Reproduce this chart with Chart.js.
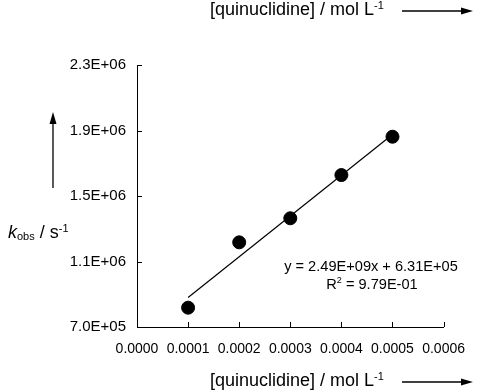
<!DOCTYPE html>
<html>
<head>
<meta charset="utf-8">
<script src="https://cdn.jsdelivr.net/npm/chart.js@4/dist/chart.umd.min.js"></script>
<style>
  body { margin: 0; background: #fff; }
  #wrap { width: 479px; height: 390px; }
</style>
</head>
<body>
<div id="wrap"><canvas id="kobs-chart" width="479" height="390"></canvas></div>
<script>
// concentrations (mol/L) and observed rate constants (1/s)
const conc = [0.0001, 0.0002, 0.0003, 0.0004, 0.0005];
const kobs = [818000, 1217000, 1364000, 1628000, 1862000];
// linear fit y = 2.49E+09x + 6.31E+05, drawn between first and last conc
const fitX = [0.0001, 0.0005];
const fitY = [880000, 1876000];
const xTicks = [0, 0.0001, 0.0002, 0.0003, 0.0004, 0.0005, 0.0006];
const yTicks = [700000, 1100000, 1500000, 1900000, 2300000];
const eqLines = ["y = 2.49E+09x + 6.31E+05", "R2 = 9.79E-01"];

const FONT = "'Liberation Sans', Arial, sans-serif";

function sci(v) {
  const parts = v.toExponential(1).split('e');
  const sign = parts[1][0];
  const digits = parts[1].slice(1).padStart(2, '0');
  return parts[0] + 'E' + sign + digits;
}

// draw a run of text pieces with sub/superscripts
function richText(ctx, pieces, x, y, align) {
  let total = 0;
  pieces.forEach(p => {
    ctx.font = (p.italic ? 'italic ' : '') + p.size + 'px ' + FONT;
    p.w = ctx.measureText(p.t).width;
    total += p.w;
  });
  let cx = align === 'center' ? x - total / 2 : x;
  pieces.forEach(p => {
    ctx.font = (p.italic ? 'italic ' : '') + p.size + 'px ' + FONT;
    ctx.fillText(p.t, cx, y + (p.dy || 0));
    cx += p.w;
  });
  return cx;
}

function arrow(ctx, x1, y1, x2, y2) {
  const ang = Math.atan2(y2 - y1, x2 - x1);
  ctx.beginPath();
  ctx.moveTo(x1, y1);
  ctx.lineTo(x2 - 8 * Math.cos(ang), y2 - 8 * Math.sin(ang));
  ctx.lineWidth = 1.3;
  ctx.stroke();
  ctx.beginPath();
  ctx.moveTo(x2, y2);
  ctx.lineTo(x2 - 12 * Math.cos(ang) + 3.5 * Math.sin(ang), y2 - 12 * Math.sin(ang) - 3.5 * Math.cos(ang));
  ctx.lineTo(x2 - 12 * Math.cos(ang) - 3.5 * Math.sin(ang), y2 - 12 * Math.sin(ang) + 3.5 * Math.cos(ang));
  ctx.closePath();
  ctx.fill();
}

const decorations = {
  id: 'decorations',
  afterDraw(chart) {
    const ctx = chart.ctx;
    const xs = chart.scales.x, ys = chart.scales.y;
    ctx.save();
    ctx.strokeStyle = '#000';
    ctx.fillStyle = '#000';
    ctx.lineWidth = 1;
    // inward tick marks
    ctx.beginPath();
    xTicks.forEach(v => {
      const px = Math.round(xs.getPixelForValue(v)) + 0.5;
      ctx.moveTo(px, ys.bottom);
      ctx.lineTo(px, ys.bottom - 5);
    });
    yTicks.forEach(v => {
      const py = Math.round(ys.getPixelForValue(v)) + 0.5;
      ctx.moveTo(xs.left, py);
      ctx.lineTo(xs.left + 5, py);
    });
    ctx.stroke();

    ctx.textBaseline = 'middle';
    ctx.textAlign = 'left';
    // x axis title, top and bottom
    [10, 381].forEach(ty => {
      richText(ctx, [
        { t: '[quinuclidine] / mol L', size: 18 },
        { t: '-1', size: 11, dy: -4 }
      ], 210, ty, 'left');
      arrow(ctx, 402, ty + 1, 473, ty + 1);
    });
    // y axis title
    richText(ctx, [
      { t: 'k', size: 18, italic: true },
      { t: 'obs', size: 11, dy: 4 },
      { t: ' / s', size: 18 },
      { t: '-1', size: 11, dy: -4 }
    ], 8, 233, 'left');
    arrow(ctx, 53, 188, 53, 112);

    // fit equation
    richText(ctx, [{ t: eqLines[0], size: 14.6 }], 371, 267, 'center');
    const r = eqLines[1];
    richText(ctx, [
      { t: r.slice(0, 1), size: 14.6 },
      { t: r.slice(1, 2), size: 9, dy: -4 },
      { t: r.slice(2), size: 14.6 }
    ], 372, 285, 'center');
    ctx.restore();
  }
};

new Chart(document.getElementById('kobs-chart'), {
  type: 'scatter',
  data: {
    datasets: [
      {
        label: 'kobs',
        data: conc.map((c, i) => ({ x: c, y: kobs[i] })),
        backgroundColor: '#000',
        borderColor: '#000',
        pointRadius: 6.5,
        pointHoverRadius: 6.5,
        order: 1
      },
      {
        label: 'fit',
        type: 'line',
        data: fitX.map((c, i) => ({ x: c, y: fitY[i] })),
        borderColor: '#000',
        borderWidth: 1.2,
        pointRadius: 0,
        fill: false,
        order: 2
      }
    ]
  },
  options: {
    responsive: false,
    animation: false,
    events: [],
    layout: { padding: { left: 0, top: 65, right: 25, bottom: 0 } },
    plugins: {
      legend: { display: false },
      tooltip: { enabled: false },
      title: { display: false }
    },
    scales: {
      x: {
        type: 'linear',
        min: 0,
        max: 0.0006,
        afterBuildTicks: s => { s.ticks = xTicks.map(v => ({ value: v })); },
        afterFit: s => { s.height = 63; },
        grid: { display: true, drawOnChartArea: false, drawTicks: false },
        border: { color: '#000', width: 1 },
        ticks: {
          padding: 14,
          color: '#000',
          font: { family: FONT, size: 14 },
          maxRotation: 0,
          callback: v => v.toFixed(4)
        }
      },
      y: {
        min: 700000,
        max: 2300000,
        afterBuildTicks: s => { s.ticks = yTicks.map(v => ({ value: v })); },
        afterFit: s => { s.width = 137; },
        grid: { display: true, drawOnChartArea: false, drawTicks: false },
        border: { color: '#000', width: 1 },
        ticks: {
          padding: 11,
          color: '#000',
          font: { family: FONT, size: 15 },
          callback: v => sci(v)
        }
      }
    }
  },
  plugins: [decorations]
});
</script>
</body>
</html>
